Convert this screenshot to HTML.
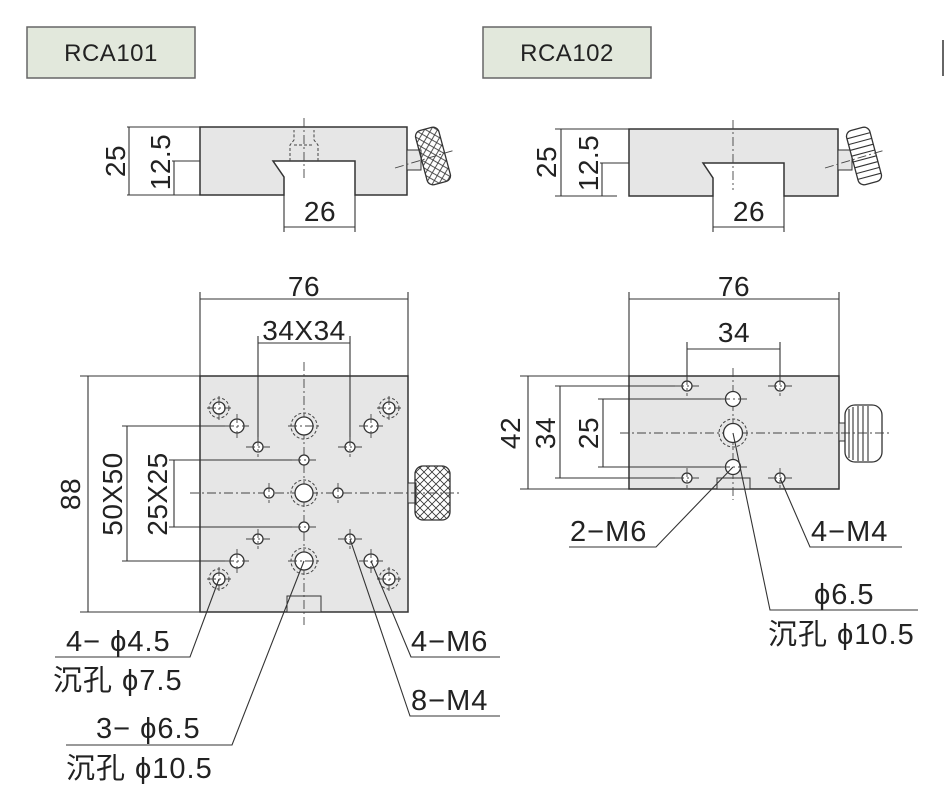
<!DOCTYPE html>
<html><head><meta charset="utf-8"><style>
body{margin:0;background:#fff}
svg{display:block}
text{font-family:"Liberation Sans","Noto Sans CJK SC",sans-serif;fill:#222}
.b{fill:#e6e6e6;stroke:#333;stroke-width:1.5}
.l{stroke:#333;stroke-width:1.1;fill:none}
.c{stroke:#444;stroke-width:0.9;fill:none;stroke-dasharray:9 3 2 3}
.d{stroke:#444;stroke-width:1;fill:none;stroke-dasharray:3 2}
.h{fill:#fff;stroke:#333;stroke-width:1.3}
.t{font-size:28px;letter-spacing:0.5px}
.lb{font-size:29px;letter-spacing:1px}
</style></head><body>
<svg width="945" height="807" viewBox="0 0 945 807" xmlns="http://www.w3.org/2000/svg">
<defs>
<pattern id="x" width="8" height="8" patternUnits="userSpaceOnUse"><path d="M0 0L8 8M8 0L0 8" stroke="#333" stroke-width="0.8"/></pattern>
</defs>
<!-- headers -->
<rect x="27" y="27" width="168" height="51" fill="#e2e8dc" stroke="#666" stroke-width="1.5"/>
<text x="111" y="61" font-size="24" text-anchor="middle" letter-spacing="0.5">RCA101</text>
<rect x="483" y="27" width="168" height="51" fill="#e2e8dc" stroke="#666" stroke-width="1.5"/>
<text x="567" y="61" font-size="24" text-anchor="middle" letter-spacing="0.5">RCA102</text>
<line x1="943" y1="40" x2="943" y2="76" stroke="#333" stroke-width="1.5"/>

<!-- ===== LEFT SIDE VIEW ===== -->
<path class="b" d="M200 127H407V195H355V161H273L284 177V195H200Z"/>
<path class="d" d="M290 161V145L294 140V130M318 161V145L314 140V130M294 145H314"/>
<line class="c" x1="304" y1="118" x2="304" y2="178"/>
<rect x="407" y="150" width="14" height="20" fill="#e6e6e6" stroke="#333"/>
<g transform="rotate(-15 433 156)"><rect x="421" y="128" width="24" height="56" rx="6" fill="url(#x)" stroke="#333" stroke-width="1.3"/></g>
<line class="c" x1="395" y1="168" x2="455" y2="150"/>
<path class="l" d="M127 127H200M127 195H200M172 161H200M129 127V195M174 161V195M284 195V232M355 195V232M284 227H355"/>
<text x="320" y="221" class="t" text-anchor="middle">26</text>
<text transform="translate(125 161) rotate(-90)" class="t" text-anchor="middle">25</text>
<text transform="translate(170 162) rotate(-90)" class="t" text-anchor="middle">12.5</text>

<!-- ===== RIGHT SIDE VIEW ===== -->
<path class="b" d="M629 129H838V196H784V163H703L713 178V196H629Z"/>
<line class="c" x1="733" y1="120" x2="733" y2="190"/>
<rect x="838" y="150" width="14" height="20" fill="#e6e6e6" stroke="#333"/>
<g transform="rotate(-15 864 156)"><rect x="852" y="128" width="24" height="56" rx="6" fill="#fff" stroke="#333" stroke-width="1.3"/>
<path class="l" d="M852 135H876M852 141H876M852 147H876M852 153H876M852 159H876M852 165H876M852 171H876M852 177H876"/></g>
<line class="c" x1="825" y1="168" x2="885" y2="150"/>
<path class="l" d="M555 129H629M555 196H617M600 163H629M561 129V196M602 163V196M713 196V232M784 196V232M713 227H784"/>
<text x="749" y="221" class="t" text-anchor="middle">26</text>
<text transform="translate(556 162) rotate(-90)" class="t" text-anchor="middle">25</text>
<text transform="translate(598 163) rotate(-90)" class="t" text-anchor="middle">12.5</text>

<!-- ===== LEFT PLAN VIEW ===== -->
<rect class="b" x="200" y="376" width="208" height="236"/>
<rect x="287" y="596" width="34" height="16" fill="#e6e6e6" stroke="#333"/>
<rect x="408" y="483" width="8" height="20" fill="#e6e6e6" stroke="#333"/>
<rect x="415" y="466" width="35" height="54" rx="8" fill="url(#x)" stroke="#333" stroke-width="1.3"/>
<line class="c" x1="190" y1="493" x2="462" y2="493"/>
<line class="c" x1="304" y1="362" x2="304" y2="625"/>
<path class="l" d="M200 292V376M408 292V376M200 299H408M258 336V447M350 336V447M258 343H350"/>
<text x="304" y="296" class="t" text-anchor="middle">76</text>
<text x="304" y="340" class="t" text-anchor="middle">34X34</text>
<path class="l" d="M80 376H200M80 612H200M88 376V612M122 426H237M122 561H237M127 426V561M169 460H304M169 527H304M174 460V527"/>
<text transform="translate(80 494) rotate(-90)" class="t" text-anchor="middle">88</text>
<text transform="translate(122 494) rotate(-90)" class="t" text-anchor="middle">50X50</text>
<text transform="translate(167 494) rotate(-90)" class="t" text-anchor="middle">25X25</text>
<circle class="d" cx="219" cy="408" r="10"/><circle class="h" cx="219" cy="408" r="6"/>
<circle class="d" cx="389" cy="408" r="10"/><circle class="h" cx="389" cy="408" r="6"/>
<circle class="d" cx="219" cy="579" r="10"/><circle class="h" cx="219" cy="579" r="6"/>
<circle class="d" cx="389" cy="579" r="10"/><circle class="h" cx="389" cy="579" r="6"/>
<circle class="h" cx="237" cy="426" r="7" stroke-width="2"/><circle class="h" cx="371" cy="426" r="7" stroke-width="2"/>
<circle class="h" cx="237" cy="561" r="7" stroke-width="2"/><circle class="h" cx="371" cy="561" r="7" stroke-width="2"/>
<circle class="d" cx="304" cy="426" r="13"/><circle class="h" cx="304" cy="426" r="9"/>
<circle class="d" cx="304" cy="493" r="13"/><circle class="h" cx="304" cy="493" r="9"/>
<circle class="d" cx="304" cy="561" r="13"/><circle class="h" cx="304" cy="561" r="9"/>
<circle class="h" cx="258" cy="447" r="5" stroke-width="1.6"/><circle class="h" cx="350" cy="447" r="5" stroke-width="1.6"/>
<circle class="h" cx="258" cy="539" r="5" stroke-width="1.6"/><circle class="h" cx="350" cy="539" r="5" stroke-width="1.6"/>
<circle class="h" cx="304" cy="460" r="5" stroke-width="1.6"/><circle class="h" cx="304" cy="527" r="5" stroke-width="1.6"/>
<circle class="h" cx="269" cy="493" r="5" stroke-width="1.6"/><circle class="h" cx="338" cy="493" r="5" stroke-width="1.6"/>
<path class="c" d="M207 408H231M219 396V420M377 408H401M389 396V420M207 579H231M219 567V591M377 579H401M389 567V591M225 426H249M237 414V438M359 426H383M371 414V438M225 561H249M237 549V573M359 561H383M371 549V573M246 447H270M258 437V457M338 447H362M350 437V457M246 539H270M258 529V549M338 539H362M350 529V549M288 426H320M288 561H320M292 460H316M292 527H316M269 483V503M338 483V503"/>
<path class="l" d="M55 657H190L219 579M66 745H232L304 561M500 657H411L371 561M500 716H410L350 539"/>
<text x="66" y="651" class="lb">4− ϕ4.5</text>
<text x="53" y="690" class="lb">沉孔 ϕ7.5</text>
<text x="96" y="738" class="lb">3− ϕ6.5</text>
<text x="66" y="778" class="lb">沉孔 ϕ10.5</text>
<text x="411" y="651" class="lb">4−M6</text>
<text x="411" y="710" class="lb">8−M4</text>

<!-- ===== RIGHT PLAN VIEW ===== -->
<rect class="b" x="629" y="376" width="210" height="113"/>
<rect x="717" y="478" width="33" height="11" fill="#e6e6e6" stroke="#333"/>
<rect x="839" y="423" width="7" height="18" fill="#e6e6e6" stroke="#333"/>
<rect x="845" y="405" width="37" height="57" rx="10" fill="#fff" stroke="#333" stroke-width="1.3"/>
<path class="l" d="M849 409V458M853 407V460M858 406V461M863 406V461M868 406V461"/>
<line class="c" x1="620" y1="433" x2="890" y2="433"/>
<line class="c" x1="733" y1="368" x2="733" y2="500"/>
<path class="l" d="M629 292V376M839 292V376M629 299H839M687 342V386M780 342V386M687 349H780"/>
<text x="734" y="296" class="t" text-anchor="middle">76</text>
<text x="734" y="342" class="t" text-anchor="middle">34</text>
<path class="l" d="M520 376H629M520 489H629M528 376V489M555 386H687M555 478H687M560 386V478M598 399H733M598 467H733M603 399V467"/>
<text transform="translate(520 433) rotate(-90)" class="t" text-anchor="middle">42</text>
<text transform="translate(555 433) rotate(-90)" class="t" text-anchor="middle">34</text>
<text transform="translate(598 433) rotate(-90)" class="t" text-anchor="middle">25</text>
<circle class="h" cx="687" cy="386" r="5" stroke-width="1.6"/><circle class="h" cx="780" cy="386" r="5" stroke-width="1.6"/>
<circle class="h" cx="687" cy="478" r="5" stroke-width="1.6"/><circle class="h" cx="780" cy="478" r="5" stroke-width="1.6"/>
<circle class="h" cx="733" cy="399" r="7.5" stroke-width="2"/><circle class="h" cx="733" cy="467" r="7.5" stroke-width="2"/>
<circle class="d" cx="733" cy="433" r="14"/><circle class="h" cx="733" cy="433" r="9.5"/>
<path class="c" d="M675 386H699M687 376V396M768 386H792M780 376V396M675 478H699M687 468V488M768 478H792M780 468V488M721 399H749M721 467H749"/>
<path class="l" d="M569 547H656L733 467M902 547H810L780 478M918 610H770L733 433"/>
<text x="570" y="541" class="lb">2−M6</text>
<text x="811" y="541" class="lb">4−M4</text>
<text x="814" y="604" class="lb">ϕ6.5</text>
<text x="768" y="644" class="lb">沉孔 ϕ10.5</text>
</svg>
</body></html>
